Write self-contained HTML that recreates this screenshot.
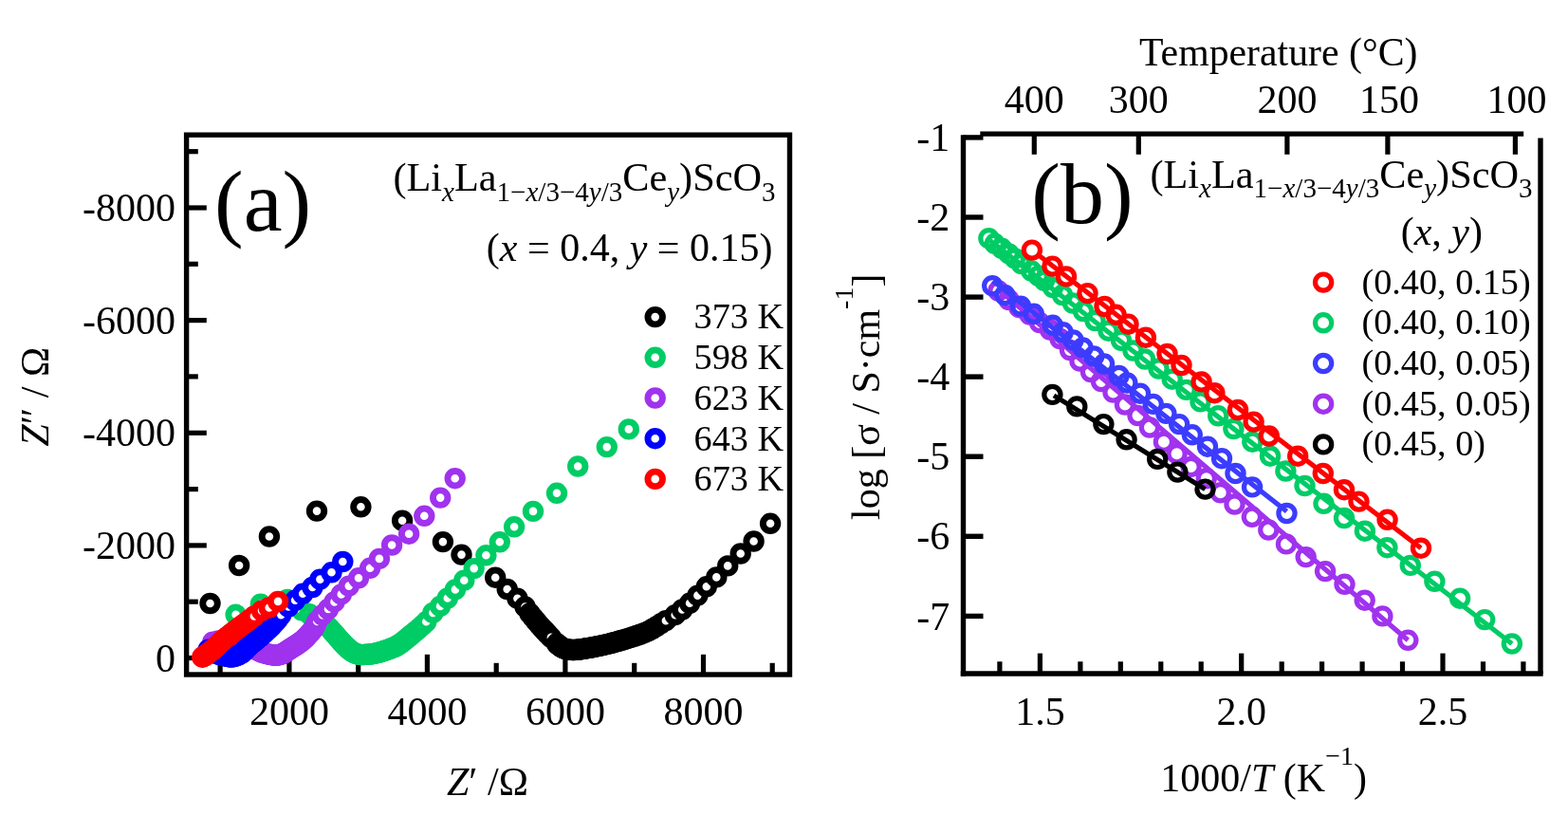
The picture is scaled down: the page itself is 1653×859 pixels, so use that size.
<!DOCTYPE html>
<html lang="en"><head><meta charset="utf-8"><title>Impedance and Arrhenius plots</title>
<style>html,body{margin:0;padding:0;background:#fff;}svg{display:block;}text{font-family:'Liberation Serif', 'DejaVu Serif', serif;fill:#000;}</style>
</head><body>
<svg width="1653" height="859" viewBox="0 0 1653 859">
<rect x="0" y="0" width="1653" height="859" fill="#fff"/>
<rect x="196.6" y="142.2" width="635.9" height="568.8" fill="none" stroke="#000" stroke-width="5.4"/>
<line x1="196.6" y1="693.5" x2="217.8" y2="693.5" stroke="#000" stroke-width="5.20" stroke-linecap="butt"/>
<line x1="196.6" y1="634.2" x2="208.8" y2="634.2" stroke="#000" stroke-width="5.20" stroke-linecap="butt"/>
<line x1="196.6" y1="574.9" x2="217.8" y2="574.9" stroke="#000" stroke-width="5.20" stroke-linecap="butt"/>
<line x1="196.6" y1="515.6" x2="208.8" y2="515.6" stroke="#000" stroke-width="5.20" stroke-linecap="butt"/>
<line x1="196.6" y1="456.3" x2="217.8" y2="456.3" stroke="#000" stroke-width="5.20" stroke-linecap="butt"/>
<line x1="196.6" y1="396.9" x2="208.8" y2="396.9" stroke="#000" stroke-width="5.20" stroke-linecap="butt"/>
<line x1="196.6" y1="337.6" x2="217.8" y2="337.6" stroke="#000" stroke-width="5.20" stroke-linecap="butt"/>
<line x1="196.6" y1="278.3" x2="208.8" y2="278.3" stroke="#000" stroke-width="5.20" stroke-linecap="butt"/>
<line x1="196.6" y1="219.0" x2="217.8" y2="219.0" stroke="#000" stroke-width="5.20" stroke-linecap="butt"/>
<line x1="196.6" y1="159.7" x2="208.8" y2="159.7" stroke="#000" stroke-width="5.20" stroke-linecap="butt"/>
<line x1="232.1" y1="711.0" x2="232.1" y2="698.8" stroke="#000" stroke-width="5.20" stroke-linecap="butt"/>
<line x1="304.9" y1="711.0" x2="304.9" y2="689.8" stroke="#000" stroke-width="5.20" stroke-linecap="butt"/>
<line x1="377.7" y1="711.0" x2="377.7" y2="698.8" stroke="#000" stroke-width="5.20" stroke-linecap="butt"/>
<line x1="450.4" y1="711.0" x2="450.4" y2="689.8" stroke="#000" stroke-width="5.20" stroke-linecap="butt"/>
<line x1="523.2" y1="711.0" x2="523.2" y2="698.8" stroke="#000" stroke-width="5.20" stroke-linecap="butt"/>
<line x1="595.9" y1="711.0" x2="595.9" y2="689.8" stroke="#000" stroke-width="5.20" stroke-linecap="butt"/>
<line x1="668.7" y1="711.0" x2="668.7" y2="698.8" stroke="#000" stroke-width="5.20" stroke-linecap="butt"/>
<line x1="741.5" y1="711.0" x2="741.5" y2="689.8" stroke="#000" stroke-width="5.20" stroke-linecap="butt"/>
<line x1="814.2" y1="711.0" x2="814.2" y2="698.8" stroke="#000" stroke-width="5.20" stroke-linecap="butt"/>
<g fill="#fff" stroke="#000000" stroke-width="6.90"><circle cx="221.5" cy="636.0" r="7.75"/><circle cx="252.1" cy="596.0" r="7.75"/><circle cx="283.9" cy="565.5" r="7.75"/><circle cx="334.0" cy="538.6" r="7.75"/><circle cx="380.4" cy="534.3" r="7.75"/><circle cx="424.1" cy="548.7" r="7.75"/><circle cx="466.9" cy="571.1" r="7.75"/><circle cx="486.5" cy="584.6" r="7.75"/><circle cx="522.2" cy="608.7" r="7.75"/><circle cx="534.7" cy="621.0" r="7.75"/><circle cx="545.4" cy="630.7" r="7.75"/><circle cx="553.5" cy="639.5" r="7.75"/><circle cx="558.5" cy="646.5" r="7.75"/><circle cx="562.3" cy="651.2" r="7.75"/><circle cx="565.6" cy="655.2" r="7.75"/><circle cx="568.7" cy="658.8" r="7.75"/><circle cx="571.4" cy="661.8" r="7.75"/><circle cx="573.9" cy="664.5" r="7.75"/><circle cx="576.1" cy="666.8" r="7.75"/><circle cx="578.0" cy="668.9" r="7.75"/><circle cx="580.9" cy="671.9" r="7.75"/><circle cx="587.0" cy="678.3" r="7.75"/><circle cx="588.1" cy="679.3" r="7.75"/><circle cx="589.3" cy="680.2" r="7.75"/><circle cx="590.4" cy="681.1" r="7.75"/><circle cx="591.5" cy="681.9" r="7.75"/><circle cx="592.7" cy="682.6" r="7.75"/><circle cx="593.9" cy="683.2" r="7.75"/><circle cx="595.0" cy="683.7" r="7.75"/><circle cx="596.2" cy="684.1" r="7.75"/><circle cx="598.2" cy="684.5" r="7.75"/><circle cx="599.4" cy="684.6" r="7.75"/><circle cx="600.6" cy="684.8" r="7.75"/><circle cx="601.8" cy="684.9" r="7.75"/><circle cx="603.1" cy="685.0" r="7.75"/><circle cx="604.3" cy="685.0" r="7.75"/><circle cx="605.6" cy="685.0" r="7.75"/><circle cx="606.9" cy="684.9" r="7.75"/><circle cx="608.3" cy="684.8" r="7.75"/><circle cx="609.6" cy="684.6" r="7.75"/><circle cx="611.0" cy="684.5" r="7.75"/><circle cx="612.4" cy="684.3" r="7.75"/><circle cx="613.9" cy="684.1" r="7.75"/><circle cx="615.3" cy="683.8" r="7.75"/><circle cx="616.9" cy="683.6" r="7.75"/><circle cx="618.4" cy="683.3" r="7.75"/><circle cx="620.0" cy="683.1" r="7.75"/><circle cx="621.7" cy="682.8" r="7.75"/><circle cx="623.4" cy="682.5" r="7.75"/><circle cx="625.2" cy="682.2" r="7.75"/><circle cx="627.0" cy="681.8" r="7.75"/><circle cx="628.9" cy="681.4" r="7.75"/><circle cx="630.8" cy="681.0" r="7.75"/><circle cx="632.8" cy="680.6" r="7.75"/><circle cx="634.9" cy="680.2" r="7.75"/><circle cx="637.1" cy="679.7" r="7.75"/><circle cx="639.3" cy="679.2" r="7.75"/><circle cx="641.7" cy="678.6" r="7.75"/><circle cx="644.1" cy="678.0" r="7.75"/><circle cx="646.6" cy="677.3" r="7.75"/><circle cx="649.3" cy="676.6" r="7.75"/><circle cx="652.0" cy="675.8" r="7.75"/><circle cx="654.9" cy="675.0" r="7.75"/><circle cx="657.9" cy="674.1" r="7.75"/><circle cx="661.1" cy="673.2" r="7.75"/><circle cx="664.4" cy="672.1" r="7.75"/><circle cx="667.9" cy="671.0" r="7.75"/><circle cx="671.6" cy="669.8" r="7.75"/><circle cx="675.4" cy="668.5" r="7.75"/><circle cx="679.5" cy="666.9" r="7.75"/><circle cx="683.6" cy="665.1" r="7.75"/><circle cx="687.9" cy="662.8" r="7.75"/><circle cx="692.3" cy="660.1" r="7.75"/><circle cx="696.9" cy="657.1" r="7.75"/><circle cx="701.9" cy="654.2" r="7.75"/><circle cx="711.7" cy="648.2" r="7.75"/><circle cx="719.2" cy="642.5" r="7.75"/><circle cx="727.1" cy="635.8" r="7.75"/><circle cx="735.4" cy="627.6" r="7.75"/><circle cx="744.8" cy="618.3" r="7.75"/><circle cx="755.3" cy="608.4" r="7.75"/><circle cx="767.2" cy="596.4" r="7.75"/><circle cx="780.7" cy="583.5" r="7.75"/><circle cx="794.6" cy="570.5" r="7.75"/><circle cx="812.1" cy="551.8" r="7.75"/></g>
<g fill="#fff" stroke="#00cc66" stroke-width="6.90"><circle cx="248.6" cy="647.8" r="7.75"/><circle cx="274.8" cy="636.7" r="7.75"/><circle cx="303.0" cy="632.0" r="7.75"/><circle cx="318.2" cy="643.3" r="7.75"/><circle cx="326.2" cy="647.3" r="7.75"/><circle cx="332.3" cy="650.6" r="7.75"/><circle cx="337.4" cy="653.8" r="7.75"/><circle cx="341.7" cy="657.0" r="7.75"/><circle cx="345.4" cy="660.1" r="7.75"/><circle cx="348.5" cy="663.3" r="7.75"/><circle cx="351.1" cy="666.4" r="7.75"/><circle cx="353.6" cy="669.2" r="7.75"/><circle cx="355.9" cy="671.8" r="7.75"/><circle cx="358.0" cy="674.2" r="7.75"/><circle cx="359.9" cy="676.5" r="7.75"/><circle cx="361.8" cy="678.5" r="7.75"/><circle cx="363.6" cy="680.4" r="7.75"/><circle cx="365.3" cy="682.0" r="7.75"/><circle cx="366.9" cy="683.5" r="7.75"/><circle cx="368.6" cy="684.9" r="7.75"/><circle cx="370.1" cy="686.1" r="7.75"/><circle cx="371.6" cy="687.1" r="7.75"/><circle cx="373.1" cy="687.9" r="7.75"/><circle cx="374.6" cy="688.6" r="7.75"/><circle cx="376.0" cy="689.1" r="7.75"/><circle cx="377.4" cy="689.5" r="7.75"/><circle cx="378.7" cy="689.9" r="7.75"/><circle cx="380.7" cy="690.1" r="7.75"/><circle cx="381.9" cy="690.1" r="7.75"/><circle cx="383.1" cy="690.0" r="7.75"/><circle cx="384.4" cy="689.9" r="7.75"/><circle cx="385.6" cy="689.9" r="7.75"/><circle cx="386.9" cy="689.8" r="7.75"/><circle cx="388.2" cy="689.7" r="7.75"/><circle cx="389.5" cy="689.6" r="7.75"/><circle cx="390.9" cy="689.4" r="7.75"/><circle cx="392.3" cy="689.3" r="7.75"/><circle cx="393.7" cy="689.0" r="7.75"/><circle cx="395.2" cy="688.7" r="7.75"/><circle cx="396.8" cy="688.4" r="7.75"/><circle cx="398.3" cy="688.0" r="7.75"/><circle cx="400.0" cy="687.5" r="7.75"/><circle cx="401.7" cy="687.1" r="7.75"/><circle cx="403.4" cy="686.5" r="7.75"/><circle cx="405.3" cy="685.9" r="7.75"/><circle cx="407.2" cy="685.3" r="7.75"/><circle cx="409.2" cy="684.6" r="7.75"/><circle cx="411.3" cy="683.8" r="7.75"/><circle cx="413.5" cy="682.9" r="7.75"/><circle cx="415.9" cy="682.0" r="7.75"/><circle cx="418.3" cy="680.8" r="7.75"/><circle cx="420.7" cy="679.3" r="7.75"/><circle cx="423.2" cy="677.6" r="7.75"/><circle cx="425.7" cy="675.6" r="7.75"/><circle cx="428.4" cy="673.4" r="7.75"/><circle cx="431.3" cy="671.0" r="7.75"/><circle cx="434.4" cy="668.5" r="7.75"/><circle cx="437.8" cy="665.7" r="7.75"/><circle cx="441.4" cy="662.6" r="7.75"/><circle cx="445.3" cy="659.2" r="7.75"/><circle cx="449.3" cy="655.3" r="7.75"/><circle cx="456.4" cy="645.9" r="7.75"/><circle cx="464.1" cy="638.9" r="7.75"/><circle cx="471.8" cy="630.5" r="7.75"/><circle cx="479.9" cy="621.4" r="7.75"/><circle cx="489.3" cy="611.7" r="7.75"/><circle cx="499.7" cy="599.1" r="7.75"/><circle cx="512.4" cy="585.3" r="7.75"/><circle cx="526.8" cy="571.3" r="7.75"/><circle cx="542.1" cy="555.3" r="7.75"/><circle cx="562.0" cy="538.9" r="7.75"/><circle cx="587.0" cy="519.8" r="7.75"/><circle cx="609.2" cy="491.5" r="7.75"/><circle cx="639.8" cy="471.1" r="7.75"/><circle cx="662.8" cy="452.4" r="7.75"/></g>
<g fill="#fff" stroke="#a033ee" stroke-width="6.90"><circle cx="221.0" cy="684.0" r="7.75"/><circle cx="224.3" cy="676.7" r="7.75"/><circle cx="230.0" cy="675.5" r="7.75"/><circle cx="235.5" cy="675.9" r="7.75"/><circle cx="240.5" cy="675.5" r="7.75"/><circle cx="245.0" cy="675.3" r="7.75"/><circle cx="249.2" cy="675.7" r="7.75"/><circle cx="252.9" cy="676.8" r="7.75"/><circle cx="256.3" cy="678.1" r="7.75"/><circle cx="259.4" cy="679.4" r="7.75"/><circle cx="262.3" cy="680.6" r="7.75"/><circle cx="264.9" cy="681.9" r="7.75"/><circle cx="267.3" cy="683.3" r="7.75"/><circle cx="269.5" cy="684.5" r="7.75"/><circle cx="271.7" cy="685.7" r="7.75"/><circle cx="273.7" cy="686.7" r="7.75"/><circle cx="275.7" cy="687.5" r="7.75"/><circle cx="277.6" cy="688.2" r="7.75"/><circle cx="279.4" cy="688.7" r="7.75"/><circle cx="281.2" cy="689.1" r="7.75"/><circle cx="282.8" cy="689.5" r="7.75"/><circle cx="284.4" cy="689.8" r="7.75"/><circle cx="285.9" cy="690.1" r="7.75"/><circle cx="287.3" cy="690.4" r="7.75"/><circle cx="288.6" cy="690.7" r="7.75"/><circle cx="289.9" cy="690.9" r="7.75"/><circle cx="291.4" cy="690.8" r="7.75"/><circle cx="292.6" cy="690.5" r="7.75"/><circle cx="293.7" cy="690.3" r="7.75"/><circle cx="294.9" cy="690.0" r="7.75"/><circle cx="296.1" cy="689.7" r="7.75"/><circle cx="297.2" cy="689.3" r="7.75"/><circle cx="298.3" cy="688.8" r="7.75"/><circle cx="299.4" cy="688.3" r="7.75"/><circle cx="300.5" cy="687.6" r="7.75"/><circle cx="301.5" cy="686.9" r="7.75"/><circle cx="302.6" cy="686.2" r="7.75"/><circle cx="303.7" cy="685.4" r="7.75"/><circle cx="304.8" cy="684.7" r="7.75"/><circle cx="305.9" cy="683.9" r="7.75"/><circle cx="307.1" cy="683.2" r="7.75"/><circle cx="308.3" cy="682.4" r="7.75"/><circle cx="309.6" cy="681.6" r="7.75"/><circle cx="310.9" cy="680.8" r="7.75"/><circle cx="312.3" cy="679.9" r="7.75"/><circle cx="313.7" cy="679.0" r="7.75"/><circle cx="315.2" cy="677.9" r="7.75"/><circle cx="316.8" cy="676.8" r="7.75"/><circle cx="318.4" cy="675.6" r="7.75"/><circle cx="320.1" cy="674.2" r="7.75"/><circle cx="321.8" cy="672.5" r="7.75"/><circle cx="323.7" cy="670.6" r="7.75"/><circle cx="325.6" cy="668.4" r="7.75"/><circle cx="327.8" cy="666.0" r="7.75"/><circle cx="330.2" cy="663.2" r="7.75"/><circle cx="332.3" cy="659.5" r="7.75"/><circle cx="334.3" cy="654.9" r="7.75"/><circle cx="339.9" cy="648.3" r="7.75"/><circle cx="346.0" cy="642.0" r="7.75"/><circle cx="352.5" cy="634.4" r="7.75"/><circle cx="359.8" cy="626.4" r="7.75"/><circle cx="367.8" cy="617.6" r="7.75"/><circle cx="378.0" cy="609.3" r="7.75"/><circle cx="390.1" cy="598.8" r="7.75"/><circle cx="399.9" cy="588.9" r="7.75"/><circle cx="413.1" cy="574.5" r="7.75"/><circle cx="431.1" cy="562.7" r="7.75"/><circle cx="447.3" cy="543.8" r="7.75"/><circle cx="464.2" cy="524.6" r="7.75"/><circle cx="479.7" cy="504.2" r="7.75"/></g>
<g fill="#fff" stroke="#0000ff" stroke-width="6.90"><circle cx="219.7" cy="684.6" r="7.75"/><circle cx="223.2" cy="686.6" r="7.75"/><circle cx="226.4" cy="688.2" r="7.75"/><circle cx="229.3" cy="689.4" r="7.75"/><circle cx="232.0" cy="690.3" r="7.75"/><circle cx="234.5" cy="690.9" r="7.75"/><circle cx="236.7" cy="691.3" r="7.75"/><circle cx="238.7" cy="691.7" r="7.75"/><circle cx="240.5" cy="692.0" r="7.75"/><circle cx="242.1" cy="692.3" r="7.75"/><circle cx="243.5" cy="692.6" r="7.75"/><circle cx="245.4" cy="692.3" r="7.75"/><circle cx="246.6" cy="692.0" r="7.75"/><circle cx="247.8" cy="691.6" r="7.75"/><circle cx="248.9" cy="691.3" r="7.75"/><circle cx="250.1" cy="690.9" r="7.75"/><circle cx="251.3" cy="690.4" r="7.75"/><circle cx="252.4" cy="689.9" r="7.75"/><circle cx="253.6" cy="689.2" r="7.75"/><circle cx="254.7" cy="688.5" r="7.75"/><circle cx="255.8" cy="687.6" r="7.75"/><circle cx="256.8" cy="686.6" r="7.75"/><circle cx="257.9" cy="685.6" r="7.75"/><circle cx="259.0" cy="684.5" r="7.75"/><circle cx="260.1" cy="683.3" r="7.75"/><circle cx="261.2" cy="682.1" r="7.75"/><circle cx="262.5" cy="680.9" r="7.75"/><circle cx="263.8" cy="679.7" r="7.75"/><circle cx="265.3" cy="678.4" r="7.75"/><circle cx="266.9" cy="677.1" r="7.75"/><circle cx="268.6" cy="675.8" r="7.75"/><circle cx="270.4" cy="674.3" r="7.75"/><circle cx="272.3" cy="672.7" r="7.75"/><circle cx="274.3" cy="671.0" r="7.75"/><circle cx="276.5" cy="669.2" r="7.75"/><circle cx="278.8" cy="667.1" r="7.75"/><circle cx="281.2" cy="664.8" r="7.75"/><circle cx="283.9" cy="662.3" r="7.75"/><circle cx="286.7" cy="659.5" r="7.75"/><circle cx="289.8" cy="656.2" r="7.75"/><circle cx="292.9" cy="652.5" r="7.75"/><circle cx="296.3" cy="648.1" r="7.75"/><circle cx="304.1" cy="639.5" r="7.75"/><circle cx="311.1" cy="632.8" r="7.75"/><circle cx="319.2" cy="625.8" r="7.75"/><circle cx="329.4" cy="619.0" r="7.75"/><circle cx="337.4" cy="610.6" r="7.75"/><circle cx="349.5" cy="603.3" r="7.75"/><circle cx="361.3" cy="592.0" r="7.75"/></g>
<g fill="#fff" stroke="#ff0000" stroke-width="6.90"><circle cx="213.3" cy="692.7" r="7.75"/><circle cx="214.1" cy="692.2" r="7.75"/><circle cx="215.0" cy="691.6" r="7.75"/><circle cx="215.8" cy="691.1" r="7.75"/><circle cx="216.7" cy="690.6" r="7.75"/><circle cx="217.6" cy="690.0" r="7.75"/><circle cx="218.4" cy="689.4" r="7.75"/><circle cx="219.3" cy="688.8" r="7.75"/><circle cx="220.1" cy="688.2" r="7.75"/><circle cx="221.0" cy="687.6" r="7.75"/><circle cx="221.8" cy="686.9" r="7.75"/><circle cx="222.7" cy="686.2" r="7.75"/><circle cx="223.6" cy="685.4" r="7.75"/><circle cx="224.5" cy="684.7" r="7.75"/><circle cx="225.4" cy="683.9" r="7.75"/><circle cx="226.3" cy="683.1" r="7.75"/><circle cx="227.3" cy="682.2" r="7.75"/><circle cx="228.3" cy="681.3" r="7.75"/><circle cx="229.3" cy="680.4" r="7.75"/><circle cx="230.3" cy="679.4" r="7.75"/><circle cx="231.4" cy="678.3" r="7.75"/><circle cx="232.6" cy="677.2" r="7.75"/><circle cx="233.8" cy="676.1" r="7.75"/><circle cx="235.1" cy="674.9" r="7.75"/><circle cx="236.5" cy="673.7" r="7.75"/><circle cx="238.0" cy="672.4" r="7.75"/><circle cx="239.7" cy="671.1" r="7.75"/><circle cx="241.5" cy="669.7" r="7.75"/><circle cx="243.4" cy="668.2" r="7.75"/><circle cx="245.5" cy="666.5" r="7.75"/><circle cx="247.8" cy="664.7" r="7.75"/><circle cx="250.3" cy="662.8" r="7.75"/><circle cx="253.1" cy="660.7" r="7.75"/><circle cx="256.2" cy="658.4" r="7.75"/><circle cx="259.7" cy="655.8" r="7.75"/><circle cx="263.5" cy="652.9" r="7.75"/><circle cx="267.9" cy="649.5" r="7.75"/><circle cx="276.0" cy="643.6" r="7.75"/><circle cx="283.7" cy="640.5" r="7.75"/><circle cx="293.1" cy="633.9" r="7.75"/></g>
<text x="185.0" y="707.6" font-size="42.0" text-anchor="end" >0</text>
<text x="185.0" y="589.0" font-size="42.0" text-anchor="end" >-2000</text>
<text x="185.0" y="470.4" font-size="42.0" text-anchor="end" >-4000</text>
<text x="185.0" y="351.7" font-size="42.0" text-anchor="end" >-6000</text>
<text x="185.0" y="233.1" font-size="42.0" text-anchor="end" >-8000</text>
<text x="304.9" y="764.2" font-size="42.0" text-anchor="middle" >2000</text>
<text x="450.4" y="764.2" font-size="42.0" text-anchor="middle" >4000</text>
<text x="595.9" y="764.2" font-size="42.0" text-anchor="middle" >6000</text>
<text x="741.5" y="764.2" font-size="42.0" text-anchor="middle" >8000</text>
<text x="471.0" y="837.8" font-size="42.0" text-anchor="start" ><tspan font-style="italic">Z</tspan>′ /Ω</text>
<text transform="translate(50.7,470.5) rotate(-90)" font-size="42"><tspan font-style="italic">Z</tspan>″ / Ω</text>
<text x="226.0" y="243.2" font-size="92.0" text-anchor="start" >(a)</text>
<text x="817.5" y="201.4" font-size="42.3" text-anchor="end" >(Li<tspan font-size="29" dy="10.2" font-style="italic">x</tspan><tspan dy="-10.2">La</tspan><tspan font-size="29" dy="10.2">1−<tspan font-style="italic">x</tspan>/3−4<tspan font-style="italic">y</tspan>/3</tspan><tspan dy="-10.2">Ce</tspan><tspan font-size="29" dy="10.2" font-style="italic">y</tspan><tspan dy="-10.2">)ScO</tspan><tspan font-size="29" dy="10.2">3</tspan></text>
<text x="814.5" y="275.3" font-size="42.0" text-anchor="end" style="word-spacing:0px">(<tspan font-style="italic">x</tspan> = 0.4, <tspan font-style="italic">y</tspan> = 0.15)</text>
<g fill="none" stroke="#000000" stroke-width="6.90"><circle cx="690.7" cy="334.1" r="7.75"/></g>
<text x="826.0" y="346.4" font-size="38.2" text-anchor="end" >373 K</text>
<g fill="none" stroke="#00cc66" stroke-width="6.90"><circle cx="690.7" cy="376.8" r="7.75"/></g>
<text x="826.0" y="389.1" font-size="38.2" text-anchor="end" >598 K</text>
<g fill="none" stroke="#a033ee" stroke-width="6.90"><circle cx="690.7" cy="419.5" r="7.75"/></g>
<text x="826.0" y="431.8" font-size="38.2" text-anchor="end" >623 K</text>
<g fill="none" stroke="#0000ff" stroke-width="6.90"><circle cx="690.7" cy="462.2" r="7.75"/></g>
<text x="826.0" y="474.5" font-size="38.2" text-anchor="end" >643 K</text>
<g fill="none" stroke="#ff0000" stroke-width="6.90"><circle cx="690.7" cy="504.9" r="7.75"/></g>
<text x="826.0" y="517.2" font-size="38.2" text-anchor="end" >673 K</text>
<g fill="none" stroke="#a033ee" stroke-width="5.20"><circle cx="1052.5" cy="306.5" r="8.60"/><circle cx="1063.5" cy="316.0" r="8.60"/><circle cx="1074.5" cy="324.2" r="8.60"/><circle cx="1085.5" cy="331.5" r="8.60"/><circle cx="1096.0" cy="340.0" r="8.60"/><circle cx="1107.0" cy="347.5" r="8.60"/><circle cx="1117.5" cy="357.0" r="8.60"/><circle cx="1128.0" cy="369.0" r="8.60"/><circle cx="1138.5" cy="380.5" r="8.60"/><circle cx="1150.0" cy="392.0" r="8.60"/><circle cx="1161.0" cy="402.0" r="8.60"/><circle cx="1173.5" cy="413.5" r="8.60"/><circle cx="1186.0" cy="426.5" r="8.60"/><circle cx="1199.5" cy="438.0" r="8.60"/><circle cx="1212.0" cy="450.5" r="8.60"/><circle cx="1226.9" cy="465.7" r="8.60"/><circle cx="1240.6" cy="478.2" r="8.60"/><circle cx="1255.6" cy="491.9" r="8.60"/><circle cx="1271.8" cy="504.3" r="8.60"/><circle cx="1286.7" cy="519.3" r="8.60"/><circle cx="1301.5" cy="531.5" r="8.60"/><circle cx="1319.9" cy="544.8" r="8.60"/><circle cx="1337.3" cy="558.5" r="8.60"/><circle cx="1356.0" cy="573.4" r="8.60"/><circle cx="1376.7" cy="587.1" r="8.60"/><circle cx="1397.1" cy="602.1" r="8.60"/><circle cx="1417.5" cy="615.8" r="8.60"/><circle cx="1438.7" cy="632.7" r="8.60"/><circle cx="1457.4" cy="649.4" r="8.60"/><circle cx="1484.3" cy="674.8" r="8.60"/></g>
<line x1="1053.0" y1="305.2" x2="1484.3" y2="674.8" stroke="#a033ee" stroke-width="5.20" stroke-linecap="butt"/>
<g fill="none" stroke="#000000" stroke-width="5.20"><circle cx="1109.4" cy="415.9" r="8.60"/><circle cx="1135.3" cy="428.4" r="8.60"/><circle cx="1163.4" cy="447.1" r="8.60"/><circle cx="1187.6" cy="463.3" r="8.60"/><circle cx="1220.2" cy="483.9" r="8.60"/><circle cx="1241.4" cy="497.6" r="8.60"/><circle cx="1270.5" cy="515.6" r="8.60"/></g>
<line x1="1111.0" y1="416.9" x2="1270.5" y2="515.6" stroke="#000000" stroke-width="5.20" stroke-linecap="butt"/>
<g fill="none" stroke="#3c3cff" stroke-width="5.20"><circle cx="1046.2" cy="301.2" r="8.60"/><circle cx="1059.3" cy="311.0" r="8.60"/><circle cx="1076.0" cy="322.6" r="8.60"/><circle cx="1089.8" cy="330.8" r="8.60"/><circle cx="1109.8" cy="342.8" r="8.60"/><circle cx="1120.6" cy="350.2" r="8.60"/><circle cx="1131.5" cy="358.5" r="8.60"/><circle cx="1141.5" cy="366.4" r="8.60"/><circle cx="1153.2" cy="375.4" r="8.60"/><circle cx="1164.0" cy="383.5" r="8.60"/><circle cx="1179.6" cy="396.0" r="8.60"/><circle cx="1188.3" cy="403.5" r="8.60"/><circle cx="1202.0" cy="414.7" r="8.60"/><circle cx="1215.7" cy="425.9" r="8.60"/><circle cx="1229.4" cy="435.9" r="8.60"/><circle cx="1243.1" cy="447.1" r="8.60"/><circle cx="1256.8" cy="458.3" r="8.60"/><circle cx="1273.0" cy="470.7" r="8.60"/><circle cx="1288.0" cy="483.2" r="8.60"/><circle cx="1302.5" cy="499.0" r="8.60"/><circle cx="1320.1" cy="513.4" r="8.60"/><circle cx="1356.5" cy="541.0" r="8.60"/></g>
<line x1="1046.7" y1="296.0" x2="1356.5" y2="539.0" stroke="#3c3cff" stroke-width="5.20" stroke-linecap="butt"/>
<g fill="none" stroke="#00cc66" stroke-width="5.20"><circle cx="1042.4" cy="251.2" r="8.60"/><circle cx="1048.7" cy="256.8" r="8.60"/><circle cx="1056.1" cy="261.8" r="8.60"/><circle cx="1063.6" cy="267.4" r="8.60"/><circle cx="1069.9" cy="272.4" r="8.60"/><circle cx="1076.7" cy="278.0" r="8.60"/><circle cx="1087.3" cy="285.5" r="8.60"/><circle cx="1094.8" cy="290.8" r="8.60"/><circle cx="1101.0" cy="295.8" r="8.60"/><circle cx="1110.0" cy="303.0" r="8.60"/><circle cx="1120.0" cy="311.0" r="8.60"/><circle cx="1131.0" cy="319.5" r="8.60"/><circle cx="1142.0" cy="328.0" r="8.60"/><circle cx="1154.5" cy="338.0" r="8.60"/><circle cx="1168.5" cy="348.7" r="8.60"/><circle cx="1182.0" cy="358.8" r="8.60"/><circle cx="1194.5" cy="369.5" r="8.60"/><circle cx="1207.0" cy="378.5" r="8.60"/><circle cx="1221.5" cy="388.5" r="8.60"/><circle cx="1235.7" cy="399.7" r="8.60"/><circle cx="1250.6" cy="410.9" r="8.60"/><circle cx="1265.5" cy="423.4" r="8.60"/><circle cx="1284.2" cy="438.3" r="8.60"/><circle cx="1300.4" cy="452.0" r="8.60"/><circle cx="1320.3" cy="465.7" r="8.60"/><circle cx="1339.0" cy="480.7" r="8.60"/><circle cx="1355.4" cy="496.5" r="8.60"/><circle cx="1375.5" cy="512.0" r="8.60"/><circle cx="1395.5" cy="530.8" r="8.60"/><circle cx="1417.0" cy="546.0" r="8.60"/><circle cx="1438.9" cy="559.7" r="8.60"/><circle cx="1462.4" cy="577.2" r="8.60"/><circle cx="1486.8" cy="595.9" r="8.60"/><circle cx="1512.4" cy="612.8" r="8.60"/><circle cx="1539.1" cy="630.7" r="8.60"/><circle cx="1565.2" cy="653.1" r="8.60"/><circle cx="1593.9" cy="678.5" r="8.60"/></g>
<line x1="1043.5" y1="253.5" x2="1593.9" y2="678.5" stroke="#00cc66" stroke-width="5.20" stroke-linecap="butt"/>
<g fill="none" stroke="#ff0000" stroke-width="5.20"><circle cx="1087.9" cy="263.6" r="8.60"/><circle cx="1109.5" cy="280.6" r="8.60"/><circle cx="1124.0" cy="291.4" r="8.60"/><circle cx="1146.5" cy="309.1" r="8.60"/><circle cx="1164.5" cy="323.0" r="8.60"/><circle cx="1176.6" cy="331.8" r="8.60"/><circle cx="1189.5" cy="341.6" r="8.60"/><circle cx="1207.9" cy="355.7" r="8.60"/><circle cx="1230.5" cy="373.0" r="8.60"/><circle cx="1245.5" cy="385.0" r="8.60"/><circle cx="1266.6" cy="402.4" r="8.60"/><circle cx="1280.4" cy="414.2" r="8.60"/><circle cx="1305.0" cy="432.0" r="8.60"/><circle cx="1321.6" cy="444.6" r="8.60"/><circle cx="1337.8" cy="459.5" r="8.60"/><circle cx="1368.2" cy="480.7" r="8.60"/><circle cx="1394.8" cy="499.0" r="8.60"/><circle cx="1417.0" cy="516.2" r="8.60"/><circle cx="1432.5" cy="528.6" r="8.60"/><circle cx="1462.6" cy="547.8" r="8.60"/><circle cx="1498.0" cy="577.7" r="8.60"/></g>
<line x1="1095.0" y1="269.0" x2="1498.0" y2="577.7" stroke="#ff0000" stroke-width="5.20" stroke-linecap="butt"/>
<line x1="1015.5" y1="142.2" x2="1015.5" y2="712.7" stroke="#000" stroke-width="5.40" stroke-linecap="butt"/>
<line x1="1012.8" y1="710.0" x2="1626.7" y2="710.0" stroke="#000" stroke-width="5.40" stroke-linecap="butt"/>
<line x1="1624.0" y1="145.4" x2="1624.0" y2="710.0" stroke="#000" stroke-width="5.40" stroke-linecap="butt"/>
<line x1="1033.3" y1="141.1" x2="1606.2" y2="141.1" stroke="#000" stroke-width="5.40" stroke-linecap="butt"/>
<line x1="1015.5" y1="144.9" x2="1036.5" y2="144.9" stroke="#000" stroke-width="5.40" stroke-linecap="butt"/>
<text x="1001.3" y="159.0" font-size="42.0" text-anchor="end" >-1</text>
<line x1="1015.5" y1="229.0" x2="1036.5" y2="229.0" stroke="#000" stroke-width="5.40" stroke-linecap="butt"/>
<text x="1001.3" y="243.1" font-size="42.0" text-anchor="end" >-2</text>
<line x1="1015.5" y1="313.1" x2="1036.5" y2="313.1" stroke="#000" stroke-width="5.40" stroke-linecap="butt"/>
<text x="1001.3" y="327.2" font-size="42.0" text-anchor="end" >-3</text>
<line x1="1015.5" y1="397.1" x2="1036.5" y2="397.1" stroke="#000" stroke-width="5.40" stroke-linecap="butt"/>
<text x="1001.3" y="411.2" font-size="42.0" text-anchor="end" >-4</text>
<line x1="1015.5" y1="481.2" x2="1036.5" y2="481.2" stroke="#000" stroke-width="5.40" stroke-linecap="butt"/>
<text x="1001.3" y="495.3" font-size="42.0" text-anchor="end" >-5</text>
<line x1="1015.5" y1="565.3" x2="1036.5" y2="565.3" stroke="#000" stroke-width="5.40" stroke-linecap="butt"/>
<text x="1001.3" y="579.4" font-size="42.0" text-anchor="end" >-6</text>
<line x1="1015.5" y1="649.4" x2="1036.5" y2="649.4" stroke="#000" stroke-width="5.40" stroke-linecap="butt"/>
<text x="1001.3" y="663.5" font-size="42.0" text-anchor="end" >-7</text>
<line x1="1053.9" y1="710.0" x2="1053.9" y2="697.3" stroke="#000" stroke-width="5.20" stroke-linecap="butt"/>
<line x1="1096.4" y1="710.0" x2="1096.4" y2="688.6" stroke="#000" stroke-width="5.20" stroke-linecap="butt"/>
<line x1="1138.9" y1="710.0" x2="1138.9" y2="697.3" stroke="#000" stroke-width="5.20" stroke-linecap="butt"/>
<line x1="1181.3" y1="710.0" x2="1181.3" y2="697.3" stroke="#000" stroke-width="5.20" stroke-linecap="butt"/>
<line x1="1223.8" y1="710.0" x2="1223.8" y2="697.3" stroke="#000" stroke-width="5.20" stroke-linecap="butt"/>
<line x1="1266.2" y1="710.0" x2="1266.2" y2="697.3" stroke="#000" stroke-width="5.20" stroke-linecap="butt"/>
<line x1="1308.7" y1="710.0" x2="1308.7" y2="688.6" stroke="#000" stroke-width="5.20" stroke-linecap="butt"/>
<line x1="1351.2" y1="710.0" x2="1351.2" y2="697.3" stroke="#000" stroke-width="5.20" stroke-linecap="butt"/>
<line x1="1393.6" y1="710.0" x2="1393.6" y2="697.3" stroke="#000" stroke-width="5.20" stroke-linecap="butt"/>
<line x1="1436.1" y1="710.0" x2="1436.1" y2="697.3" stroke="#000" stroke-width="5.20" stroke-linecap="butt"/>
<line x1="1478.5" y1="710.0" x2="1478.5" y2="697.3" stroke="#000" stroke-width="5.20" stroke-linecap="butt"/>
<line x1="1521.0" y1="710.0" x2="1521.0" y2="688.6" stroke="#000" stroke-width="5.20" stroke-linecap="butt"/>
<line x1="1563.5" y1="710.0" x2="1563.5" y2="697.3" stroke="#000" stroke-width="5.20" stroke-linecap="butt"/>
<line x1="1605.9" y1="710.0" x2="1605.9" y2="697.3" stroke="#000" stroke-width="5.20" stroke-linecap="butt"/>
<text x="1096.4" y="763.5" font-size="42.0" text-anchor="middle" >1.5</text>
<text x="1308.7" y="763.5" font-size="42.0" text-anchor="middle" >2.0</text>
<text x="1521.0" y="763.5" font-size="42.0" text-anchor="middle" >2.5</text>
<line x1="1090.3" y1="141.1" x2="1090.3" y2="162.8" stroke="#000" stroke-width="5.20" stroke-linecap="butt"/>
<text x="1090.3" y="119.2" font-size="42.0" text-anchor="middle" >400</text>
<line x1="1200.3" y1="141.1" x2="1200.3" y2="162.8" stroke="#000" stroke-width="5.20" stroke-linecap="butt"/>
<text x="1200.3" y="119.2" font-size="42.0" text-anchor="middle" >300</text>
<line x1="1356.9" y1="141.1" x2="1356.9" y2="162.8" stroke="#000" stroke-width="5.20" stroke-linecap="butt"/>
<text x="1356.9" y="119.2" font-size="42.0" text-anchor="middle" >200</text>
<line x1="1462.9" y1="141.1" x2="1462.9" y2="162.8" stroke="#000" stroke-width="5.20" stroke-linecap="butt"/>
<text x="1464.4" y="119.2" font-size="42.0" text-anchor="middle" >150</text>
<line x1="1597.4" y1="141.1" x2="1597.4" y2="162.8" stroke="#000" stroke-width="5.20" stroke-linecap="butt"/>
<text x="1598.9" y="119.2" font-size="42.0" text-anchor="middle" >100</text>
<text x="1201.0" y="68.6" font-size="41.8" text-anchor="start" >Temperature (°C)</text>
<text x="1223.3" y="834.3" font-size="42.0" text-anchor="start" >1000/<tspan font-style="italic">T</tspan> (K<tspan font-size="28" dy="-28">−1</tspan><tspan dy="28">)</tspan></text>
<text transform="translate(926.9,548.0) rotate(-90)" font-size="42">log [σ / S·cm<tspan font-size="28" dy="-28">-1</tspan><tspan dy="28">]</tspan></text>
<text x="1087.3" y="235.3" font-size="92.0" text-anchor="start" >(b)</text>
<text x="1615.5" y="197.5" font-size="42.3" text-anchor="end" >(Li<tspan font-size="29" dy="10.2" font-style="italic">x</tspan><tspan dy="-10.2">La</tspan><tspan font-size="29" dy="10.2">1−<tspan font-style="italic">x</tspan>/3−4<tspan font-style="italic">y</tspan>/3</tspan><tspan dy="-10.2">Ce</tspan><tspan font-size="29" dy="10.2" font-style="italic">y</tspan><tspan dy="-10.2">)ScO</tspan><tspan font-size="29" dy="10.2">3</tspan></text>
<text x="1563.0" y="257.5" font-size="42.0" text-anchor="end" >(<tspan font-style="italic">x</tspan>, <tspan font-style="italic">y</tspan>)</text>
<g fill="none" stroke="#ff0000" stroke-width="5.20"><circle cx="1395.1" cy="297.6" r="8.60"/></g>
<text x="1435.5" y="309.5" font-size="38.2" text-anchor="start" >(0.40, 0.15)</text>
<g fill="none" stroke="#00cc66" stroke-width="5.20"><circle cx="1395.1" cy="340.3" r="8.60"/></g>
<text x="1435.5" y="352.2" font-size="38.2" text-anchor="start" >(0.40, 0.10)</text>
<g fill="none" stroke="#3c3cff" stroke-width="5.20"><circle cx="1395.1" cy="383.0" r="8.60"/></g>
<text x="1435.5" y="394.9" font-size="38.2" text-anchor="start" >(0.40, 0.05)</text>
<g fill="none" stroke="#a033ee" stroke-width="5.20"><circle cx="1395.1" cy="425.7" r="8.60"/></g>
<text x="1435.5" y="437.6" font-size="38.2" text-anchor="start" >(0.45, 0.05)</text>
<g fill="none" stroke="#000000" stroke-width="5.20"><circle cx="1395.1" cy="468.4" r="8.60"/></g>
<text x="1435.5" y="480.3" font-size="38.2" text-anchor="start" >(0.45, 0)</text>
</svg></body></html>
